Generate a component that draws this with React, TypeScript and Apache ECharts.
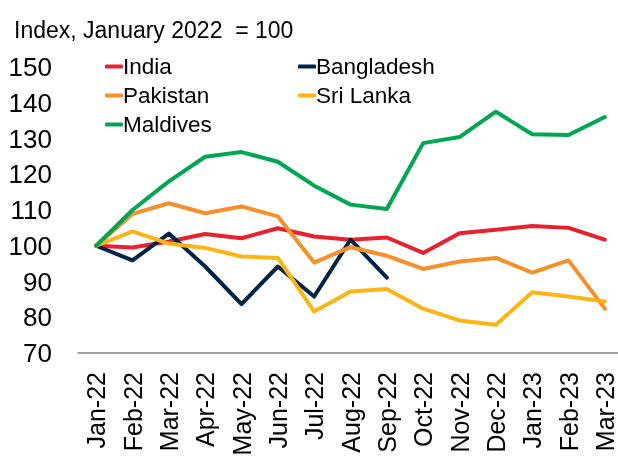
import React, { useEffect, useRef } from "react";
import * as echarts from "echarts";

const categories = ["Jan-22","Feb-22","Mar-22","Apr-22","May-22","Jun-22","Jul-22","Aug-22","Sep-22","Oct-22","Nov-22","Dec-22","Jan-23","Feb-23","Mar-23"];
const india = [100, 99.5, 101.2, 103.3, 102.1, 104.9, 102.6, 101.7, 102.3, 98, 103.5, 104.5, 105.5, 105, 101.7];
const bangladesh = [100, 95.9, 103.4, 94.2, 83.7, 94.2, 85.8, 101.7, 91.1, null, null, null, null, null, null];
const pakistan = [100, 108.9, 111.9, 109.1, 111, 108.2, 95.3, 99.6, 97.2, 93.5, 95.6, 96.6, 92.5, 95.9, 82.4];
const sriLanka = [100, 104, 100.6, 99.4, 97, 96.6, 81.6, 87.2, 87.9, 82.4, 79.1, 77.9, 87, 85.8, 84.4];
const maldives = [100, 110, 118, 124.9, 126.2, 123.5, 116.8, 111.5, 110.3, 128.7, 130.4, 137.5, 131.2, 131, 136];

const FONT = "Liberation Sans";

export default function App() {
  const ref = useRef<HTMLDivElement>(null);
  useEffect(() => {
    const chart = echarts.init(ref.current!, null, { renderer: "svg" });
    const mk = (name: string, data: (number | null)[], color: string) => ({
      name,
      type: "line",
      data,
      symbol: "none",
      connectNulls: false,
      lineStyle: { width: 4, color, cap: "round", join: "round" },
      itemStyle: { color },
    });
    const legendCommon = {
      orient: "vertical",
      icon: "roundRect",
      itemWidth: 18,
      itemHeight: 4,
      itemGap: 6,
      padding: 0,
      textStyle: { fontFamily: FONT, fontSize: 22.5, color: "#000", padding: [0, 0, 0, -5] },
    };
    chart.setOption({
      animation: false,
      title: {
        text: "Index, January 2022  = 100",
        left: 9,
        top: 13,
        textStyle: { fontFamily: FONT, fontSize: 23, fontWeight: "normal", color: "#000" },
      },
      legend: [
        { ...legendCommon, left: 105, top: 55, data: ["India", "Pakistan", "Maldives"] },
        { ...legendCommon, left: 298, top: 55, data: ["Bangladesh", "Sri Lanka"] },
      ],
      grid: { left: 78, right: -5, top: 67, bottom: 105, containLabel: false, outerBoundsMode: "none" },
      xAxis: {
        type: "category",
        data: categories,
        boundaryGap: true,
        axisLine: { lineStyle: { color: "#808080", width: 1.5 } },
        axisTick: { show: false },
        axisLabel: { rotate: 90, fontFamily: FONT, fontSize: 25, lineHeight: 20, color: "#000", margin: 19, interval: 0 },
      },
      yAxis: {
        type: "value",
        min: 70,
        max: 150,
        interval: 10,
        splitLine: { show: false },
        axisLine: { show: false },
        axisTick: { show: false },
        axisLabel: { fontFamily: FONT, fontSize: 26, color: "#000", margin: 26 },
      },
      series: [
        mk("India", india, "#E8202F"),
        mk("Bangladesh", bangladesh, "#002347"),
        mk("Pakistan", pakistan, "#F7902C"),
        mk("Sri Lanka", sriLanka, "#FDB515"),
        mk("Maldives", maldives, "#00A651"),
      ],
    });
    return () => chart.dispose();
  }, []);
  return <div ref={ref} style={{ position: "fixed", left: 0, top: 0, width: 618, height: 458 }} />;
}
